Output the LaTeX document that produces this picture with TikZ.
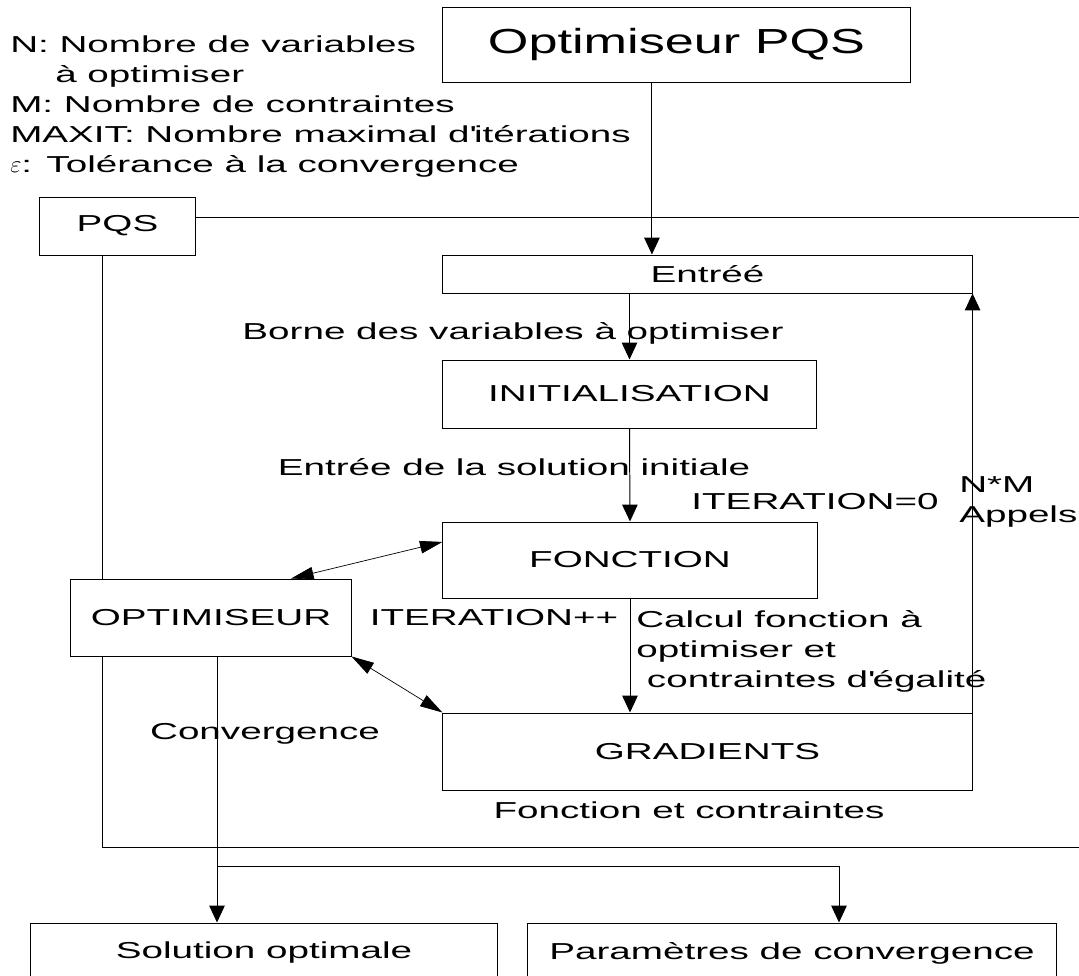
\documentclass[tikz,border=0pt]{standalone}
\usepackage{fontspec}
\setmainfont{Liberation Sans}[FakeStretch=1.675]
\newfontfamily\largefam{Liberation Sans}[FakeStretch=1.5]
\usetikzlibrary{arrows.meta,calc}
\newcommand{\texte}{\fontsize{16.4}{21.3}\selectfont}
\newcommand{\grand}{\largefam\fontsize{24.75}{28}\selectfont}
\tikzset{
  boite/.style={draw=black, line width=0.7pt, font=\texte},
  lab/.style={font=\texte},
  fl/.style={-{Triangle[length=12pt,width=11pt]}, line width=0.7pt},
  dfl/.style={{Triangle[length=16pt,width=9pt]}-{Triangle[length=16pt,width=9pt]}, line width=0.5pt},
}
\begin{document}
\begin{tikzpicture}[x=0.025cm, y=0.025cm]
    \tikzstyle{every node}+=[inner sep=0pt]
    \useasboundingbox (0,0) rectangle (1079,-975);
    \node [boite, minimum width=11.675cm, minimum height=1.875cm, font=\grand] (titre) at (676.5,-44.5) {Optimiseur PQS};
    \node [lab, anchor=north west, align=left] (donnees) at (10,-36) {N: Nombre de variables\\\hspace*{32pt}à optimiser\\M: Nombre de contraintes\\MAXIT: Nombre maximal d\textquotesingle itérations\\$\varepsilon$: Tolérance à la convergence};
    \node [boite, minimum width=3.875cm, minimum height=1.45cm] (pqs) at (117.5,-226) {PQS};
    \node [boite, minimum width=13.225cm, minimum height=0.95cm] (entree) at (707.5,-274) {Entréé};
    \node [boite, minimum width=9.325cm, minimum height=1.7cm] (init) at (629.5,-394) {INITIALISATION};
    \node [boite, minimum width=9.35cm, minimum height=1.9cm] (fonction) at (630,-560) {FONCTION};
    \node [boite, minimum width=7cm, minimum height=1.925cm] (optim) at (211,-617.5) {OPTIMISEUR};
    \node [boite, minimum width=13.225cm, minimum height=1.925cm] (gradients) at (707.5,-751.5) {GRADIENTS};
    \node [boite, minimum width=11.65cm, minimum height=1.5cm] (solution) at (264,-953) {Solution optimale};
    \node [boite, minimum width=13.2cm, minimum height=1.5cm] (params) at (792,-953) {Paramètres de convergence};
    \node [lab] (borne) at (513,-333) {Borne des variables à optimiser};
    \node [lab] (solinit) at (514,-467) {Entrée de la solution initiale};
    \node [lab] (iterzero) at (815,-502) {ITERATION=0};
    \node [lab, anchor=north west, align=left] (appels) at (959,-476) {N*M\\Appels};
    \node [lab] (iterplus) at (494,-618) {ITERATION++};
    \node [lab, anchor=north west, align=left] (calcul) at (636,-610) {Calcul fonction à\\optimiser et\\\hspace*{7.6pt}contraintes d\textquotesingle égalité};
    \node [lab] (convlab) at (265,-734) {Convergence};
    \node [lab] (fonctlab) at (689,-810) {Fonction et contraintes};
    \coordinate (coinHD) at (1079,-217);
    \coordinate (coinBG) at (102,-847);
    \coordinate (coinBD) at (1079,-847);
    \coordinate (branche) at (217,-866);
    \coordinate (brancheD) at (839,-866);
    \draw [fl] ($(titre.south west)!0.4475!(titre.south east)$) coordinate (fa) -- (fa |- entree.north);
    \draw [fl] (entree.south -| init.north) -- (init.north);
    \draw [fl] (init.south) -- (fonction.north);
    \draw [fl] (fonction.south) -- (gradients.north -| fonction.south);
    \draw [fl] (gradients.north east) -- (entree.south east);
    \draw [dfl] ($(optim.north)!0.57!(optim.north east)$) -- ($(fonction.west)!0.47!(fonction.north west)$);
    \draw [dfl] (optim.south east) -- (gradients.north west);
    \draw [line width=0.7pt] (pqs.east |- coinHD) -- (coinHD);
    \draw [line width=0.7pt] (pqs.south -| coinBG) -- (optim.north -| coinBG);
    \draw [line width=0.7pt] (optim.south -| coinBG) -- (coinBG) -- (coinBD);
    \draw [fl] (optim.south -| branche) -- (solution.north -| branche);
    \draw [fl] (branche) -- (brancheD) -- (params.north -| brancheD);
\end{tikzpicture}
\end{document}
